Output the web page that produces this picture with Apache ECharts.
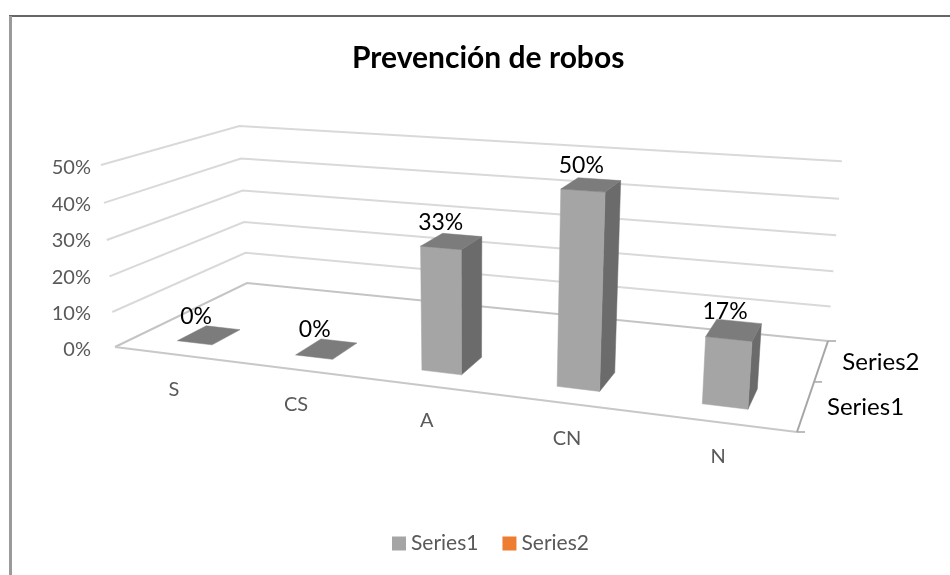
<!DOCTYPE html>
<html><head><meta charset="utf-8">
<style>html,body{margin:0;padding:0;background:#fff}#c{width:950px;height:575px}</style>
<script src="https://cdn.jsdelivr.net/npm/echarts@6/dist/echarts.min.js"></script>
</head><body><div id="c"></div>
<script>
const categories = ['S','CS','A','CN','N'];
const series1 = [0,0,33,50,17];
const series2 = [null,null,null,null,null];
const valueTicks = [0,10,20,30,40,50];
const depthNames = ['Series1','Series2'];

// 3D view of the Excel chart: floor corners on screen, and how tall the wall is there
const floorQuad = [[115,347],[797,432],[828,341],[247,283]];
const H_BASE = 182, H_SLOPE = 0.39, H_REF_Y = 347, VANISH_X = 471, VANISH_D = 4628;
const PERSP = 1.05, BAR_W = 0.30, BAR_D0 = 0.15, BAR_D1 = 0.36, U_WARP = 0.02;

function homography(q){
  const [x0,y0]=q[0],[x1,y1]=q[1],[x2,y2]=q[2],[x3,y3]=q[3];
  const dx1=x1-x2,dx2=x3-x2,sx=x0-x1+x2-x3,dy1=y1-y2,dy2=y3-y2,sy=y0-y1+y2-y3;
  const det=dx1*dy2-dx2*dy1;
  const g=(sx*dy2-dx2*sy)/det,h=(dx1*sy-sx*dy1)/det;
  const a=x1-x0+g*x1,b=x3-x0+h*x3,d=y1-y0+g*y1,e=y3-y0+h*y3;
  return (u,v)=>{const w=g*u+h*v+1;return [(a*u+b*v+x0)/w,(d*u+e*v+y0)/w];};
}
const floorH=homography(floorQuad);
function project(cs,px,py,depth){
  const u0=(px-cs.x)/cs.width, u=u0+U_WARP*u0*(1-u0), s=(cs.y+cs.height-py)/cs.height;
  const t=s/(s+(1-s)*PERSP);
  const f=floorH(u,depth);
  const h=H_BASE+H_SLOPE*(f[1]-H_REF_Y);
  return [f[0]+(f[0]-VANISH_X)*h/VANISH_D*t, f[1]-h*t];
}
const poly=(pts,fill)=>({type:'polygon',shape:{points:pts},style:{fill,stroke:fill,lineWidth:0.5}});
const line=(pts,stroke,lineWidth)=>({type:'polyline',shape:{points:pts},style:{stroke,lineWidth,fill:null}});

function renderWall(params,api){
  const cs=params.coordSys, v=api.value(1);
  const py=api.coord([0,v])[1], L=cs.x, R=cs.x+cs.width;
  return line([project(cs,L,py,0),project(cs,L,py,1),project(cs,R,py,1)],v===0?'#C4C4C4':'#D9D9D9',2);
}
function renderFloor(params,api){
  const cs=params.coordSys, y0=api.coord([0,0])[1], L=cs.x, R=cs.x+cs.width;
  const P=(x,d)=>project(cs,x,y0,d);
  const tick=(d)=>{const p=P(R,d);return line([p,[p[0]+8,p[1]]],'#A6A6A6',1.5);};
  return {type:'group',children:[
    line([P(L,0),P(R,0)],'#C8C8C8',2),
    line([P(R,0),P(R,1)],'#A6A6A6',2),
    tick(0),tick(0.5),tick(1)
  ]};
}
function renderBar(params,api){
  const v=api.value(1);
  if(v==null||isNaN(v))return null;
  const cs=params.coordSys, c=api.coord([api.value(0),v]), y0=api.coord([api.value(0),0])[1];
  const hw=api.size([1,0])[0]*BAR_W/2, L=c[0]-hw, R=c[0]+hw, T=c[1];
  const P=(x,y,d)=>project(cs,x,y,d), d0=BAR_D0, d1=BAR_D1;
  const ch=[];
  if(v>0){
    ch.push(poly([P(R,y0,d0),P(R,y0,d1),P(R,T,d1),P(R,T,d0)],'#6B6B6B'));
    ch.push(poly([P(L,y0,d0),P(R,y0,d0),P(R,T,d0),P(L,T,d0)],'#A5A5A5'));
  }
  ch.push(poly([P(L,T,d0),P(R,T,d0),P(R,T,d1),P(L,T,d1)],'#7C7C7C'));
  const a=P(L,T,d0),b=P(R,T,d1),u=(c[0]-cs.x)/cs.width;
  ch.push({type:'text',style:{text:v+'%',x:(a[0]+b[0])/2-13+5*u,y:(a[1]+b[1])/2-19,align:'center',verticalAlign:'middle',
    fontFamily:'Lato',fontSize:23,fill:'#000'}});
  return {type:'group',children:ch};
}
function renderCat(params,api){
  const cs=params.coordSys,i=api.value(0),c=api.coord([i,0]);
  const p=project(cs,c[0],c[1],0);
  return {type:'text',style:{text:categories[i],x:p[0]+1,y:p[1]+35,align:'center',verticalAlign:'middle',
    fontFamily:'Lato',fontSize:20,fill:'#595959'}};
}
function renderDepth(params,api){
  const cs=params.coordSys,i=api.value(0),R=cs.x+cs.width,y0=cs.y+cs.height;
  const p=project(cs,R,y0,(i+0.5)/depthNames.length);
  return {type:'text',style:{text:depthNames[i],x:p[0]+21,y:p[1]+2,align:'left',verticalAlign:'middle',
    fontFamily:'Lato',fontSize:24,fill:'#000'}};
}
const hidden={silent:true,tooltip:{show:false}};
const chart=echarts.init(document.getElementById('c'),null,{renderer:'canvas'});
chart.setOption({
  animation:false,backgroundColor:'#fff',
  title:{text:'Prevención de robos',left:347,top:38,
    textStyle:{fontFamily:'Lato',fontWeight:'bold',fontSize:30,color:'#000'}},
  legend:{data:['Series1','Series2'],left:387,top:528,itemWidth:14,itemHeight:14,itemGap:24,icon:'rect',
    textStyle:{fontFamily:'Lato',fontSize:21,color:'#595959'}},
  grid:{left:115,right:153,top:168,bottom:225},
  xAxis:{type:'category',data:categories,axisLine:{show:false},axisTick:{show:false},axisLabel:{show:false},splitLine:{show:false}},
  yAxis:{type:'value',min:0,max:50,interval:10,axisLine:{show:false},axisTick:{show:false},splitLine:{show:false},
    axisLabel:{formatter:'{value}%',margin:24,fontFamily:'Lato',fontSize:20,color:'#595959'}},
  graphic:[
    {type:'line',shape:{x1:9,y1:16,x2:950,y2:16},style:{stroke:'#666666',lineWidth:2},silent:true},
    {type:'line',shape:{x1:10.5,y1:16,x2:10.5,y2:575},style:{stroke:'#9A9A9A',lineWidth:3},silent:true}
  ],
  series:[
    {type:'custom',name:'wall',...hidden,renderItem:renderWall,data:valueTicks.map(v=>[0,v]),z:1},
    {type:'custom',name:'floor',...hidden,renderItem:renderFloor,data:[[0,0]],z:2},
    {type:'custom',name:'cat',...hidden,renderItem:renderCat,data:categories.map((c,i)=>[i,0]),z:2},
    {type:'custom',name:'depth',...hidden,renderItem:renderDepth,data:depthNames.map((c,i)=>[i,0]),z:2},
    {type:'custom',name:'Series2',renderItem:renderBar,data:series2.map((v,i)=>[i,v]),itemStyle:{color:'#ED7D31'},z:3},
    {type:'custom',name:'Series1',renderItem:renderBar,data:series1.map((v,i)=>[i,v]),itemStyle:{color:'#A5A5A5'},z:4}
  ]
});
</script></body></html>
